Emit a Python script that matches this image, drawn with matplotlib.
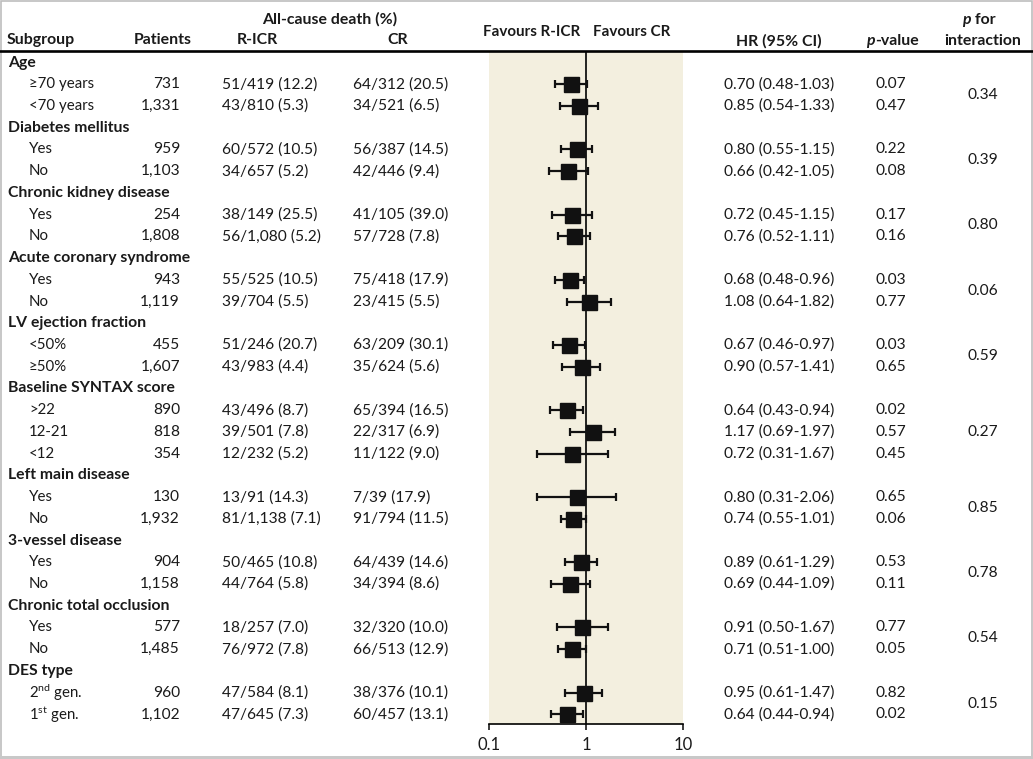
import numpy as np
import matplotlib
matplotlib.use("Agg")
import matplotlib.pyplot as plt
from matplotlib.patches import Rectangle
from matplotlib.lines import Line2D

plt.rcParams['font.family'] = ['Lato', 'DejaVu Sans']
plt.rcParams['mathtext.fontset'] = 'custom'
plt.rcParams['mathtext.rm'] = 'Lato'
plt.rcParams['mathtext.it'] = 'Lato:italic'
plt.rcParams['mathtext.bf'] = 'Lato:bold'

# datos
groups = ["Age", "Diabetes mellitus", "Chronic kidney disease", "Acute coronary syndrome",
          "LV ejection fraction", "Baseline SYNTAX score", "Left main disease",
          "3-vessel disease", "Chronic total occlusion", "DES type"]
n_sub = [2, 2, 2, 2, 2, 3, 2, 2, 2, 2]
labels = ["≥70 years", "<70 years", "Yes", "No", "Yes", "No", "Yes", "No", "<50%", "≥50%",
          ">22", "12-21", "<12", "Yes", "No", "Yes", "No", "Yes", "No",
          r"2$^{\mathrm{nd}}$ gen.", r"1$^{\mathrm{st}}$ gen."]
patients = ["731", "1,331", "959", "1,103", "254", "1,808", "943", "1,119", "455", "1,607",
            "890", "818", "354", "130", "1,932", "904", "1,158", "577", "1,485", "960", "1,102"]
ricr = ["51/419 (12.2)", "43/810 (5.3)", "60/572 (10.5)", "34/657 (5.2)", "38/149 (25.5)",
        "56/1,080 (5.2)", "55/525 (10.5)", "39/704 (5.5)", "51/246 (20.7)", "43/983 (4.4)",
        "43/496 (8.7)", "39/501 (7.8)", "12/232 (5.2)", "13/91 (14.3)", "81/1,138 (7.1)",
        "50/465 (10.8)", "44/764 (5.8)", "18/257 (7.0)", "76/972 (7.8)", "47/584 (8.1)",
        "47/645 (7.3)"]
cr = ["64/312 (20.5)", "34/521 (6.5)", "56/387 (14.5)", "42/446 (9.4)", "41/105 (39.0)",
      "57/728 (7.8)", "75/418 (17.9)", "23/415 (5.5)", "63/209 (30.1)", "35/624 (5.6)",
      "65/394 (16.5)", "22/317 (6.9)", "11/122 (9.0)", "7/39 (17.9)", "91/794 (11.5)",
      "64/439 (14.6)", "34/394 (8.6)", "32/320 (10.0)", "66/513 (12.9)", "38/376 (10.1)",
      "60/457 (13.1)"]
hr = [0.70, 0.85, 0.80, 0.66, 0.72, 0.76, 0.68, 1.08, 0.67, 0.90, 0.64, 1.17, 0.72,
      0.80, 0.74, 0.89, 0.69, 0.91, 0.71, 0.95, 0.64]
lo = [0.48, 0.54, 0.55, 0.42, 0.45, 0.52, 0.48, 0.64, 0.46, 0.57, 0.43, 0.69, 0.31,
      0.31, 0.55, 0.61, 0.44, 0.50, 0.51, 0.61, 0.44]
hi = [1.03, 1.33, 1.15, 1.05, 1.15, 1.11, 0.96, 1.82, 0.97, 1.41, 0.94, 1.97, 1.67,
      2.06, 1.01, 1.29, 1.09, 1.67, 1.00, 1.47, 0.94]
pval = ["0.07", "0.47", "0.22", "0.08", "0.17", "0.16", "0.03", "0.77", "0.03", "0.65",
        "0.02", "0.57", "0.45", "0.65", "0.06", "0.53", "0.11", "0.77", "0.05", "0.82", "0.02"]
p_int = ["0.34", "0.39", "0.80", "0.06", "0.59", "0.27", "0.85", "0.78", "0.54", "0.15"]

# filas: cabecera de grupo + subgrupos
grp_row = []
sub_row = []
r = 0
for n in n_sub:
    grp_row.append(r)
    sub_row += list(range(r + 1, r + 1 + n))
    r += n + 1
sub_row = np.array(sub_row)

W, H = 1033, 759
y0, dy = 62.5, 21.73          # posición (px) de la fila 0 y altura de fila
ypix = lambda i: y0 + dy * i
fx0, fx1, fy0, fy1 = 489, 683, 51, 724   # zona del forest plot en px

txt = '#1a1a1a'
fs = 11.2      # texto normal
fs_g = 11.3    # nombres de grupo
fs_h = 11.4    # cabecera

fig = plt.figure(figsize=(W / 100, H / 100), dpi=100)

# ejes del forest plot (escala log)
ax = fig.add_axes([fx0 / W, 1 - fy1 / H, (fx1 - fx0) / W, (fy1 - fy0) / H])
ax.set_facecolor('#f3efdf')
ax.set_xscale('log')
ax.set_xlim(0.1, 10)
ax.set_ylim((fy1 - y0) / dy, (fy0 - y0) / dy)
ax.axvline(1, color='black', lw=1.2, zorder=1)
hr_a, lo_a, hi_a = np.array(hr), np.array(lo), np.array(hi)
ax.errorbar(hr_a, sub_row, xerr=[hr_a - lo_a, hi_a - hr_a], fmt='s', color='#111111',
            ms=10.8, elinewidth=1.6, capsize=2.6, capthick=1.6, zorder=3)
for s in ['top', 'left', 'right']:
    ax.spines[s].set_visible(False)
ax.spines['bottom'].set_linewidth(1.2)
ax.set_yticks([])
ax.set_xticks([0.1, 1, 10])
ax.set_xticklabels(["0.1", "1", "10"])
ax.xaxis.set_minor_locator(matplotlib.ticker.NullLocator())
ax.tick_params(axis='x', direction='out', length=4, width=1.2, labelsize=12, pad=5,
               colors=txt)

# ejes de la tabla (coordenadas en px)
tab = fig.add_axes([0, 0, 1, 1], zorder=3)
tab.set_xlim(0, W)
tab.set_ylim(H, 0)
tab.axis('off')
tab.patch.set_visible(False)

T = lambda x, y, s, **kw: tab.text(x, y, s, va='center', color=txt, **kw)

# cabecera
hb = dict(fontweight='bold', fontsize=fs_h)
T(330, 19, "All-cause death (%)", ha='center', **hb)
T(7, 40, "Subgroup", ha='left', **hb)
T(163, 40, "Patients", ha='center', **hb)
T(257, 40, "R-ICR", ha='center', **hb)
T(398, 40, "CR", ha='center', **hb)
T(580, 32, "Favours R-ICR", ha='right', fontweight='bold', fontsize=10.9)
T(593, 32, "Favours CR", ha='left', fontweight='bold', fontsize=10.9)
T(779, 41, "HR (95% CI)", ha='center', **hb)
T(875, 41, "p", ha='right', fontstyle='italic', **hb)
T(875, 41, "-value", ha='left', **hb)
T(971, 20, "p", ha='right', fontstyle='italic', **hb)
T(971, 20, " for", ha='left', **hb)
T(983, 41, "interaction", ha='center', **hb)
tab.add_line(Line2D([0, W], [50.5, 50.5], color='black', lw=1.9))

# filas
for g, i in zip(groups, grp_row):
    T(8, ypix(i), g, ha='left', fontweight='bold', fontsize=fs_g)
for k, i in enumerate(sub_row):
    y = ypix(i)
    T(29, y, labels[k], ha='left', fontsize=fs - 0.4)
    T(180, y, patients[k], ha='right', fontsize=fs)
    T(222, y, ricr[k], ha='left', fontsize=fs)
    T(353, y, cr[k], ha='left', fontsize=fs)
    T(779, y, f"{hr[k]:.2f} ({lo[k]:.2f}-{hi[k]:.2f})", ha='center', fontsize=fs)
    T(891, y, pval[k], ha='center', fontsize=fs)
k = 0
for j, n in enumerate(n_sub):
    rows = sub_row[k:k + n]
    T(983, ypix(rows.mean()), p_int[j], ha='center', fontsize=fs)
    k += n

# marco gris
tab.add_patch(Rectangle((0.5, 0.5), W - 1.5, H - 1.5, fill=False, ec='#bdbdbd', lw=1.2))
tab.add_patch(Rectangle((0, H - 3.5), W, 3.5, color='#c8c8c8', lw=0))

fig.savefig('out.png', dpi=100)
